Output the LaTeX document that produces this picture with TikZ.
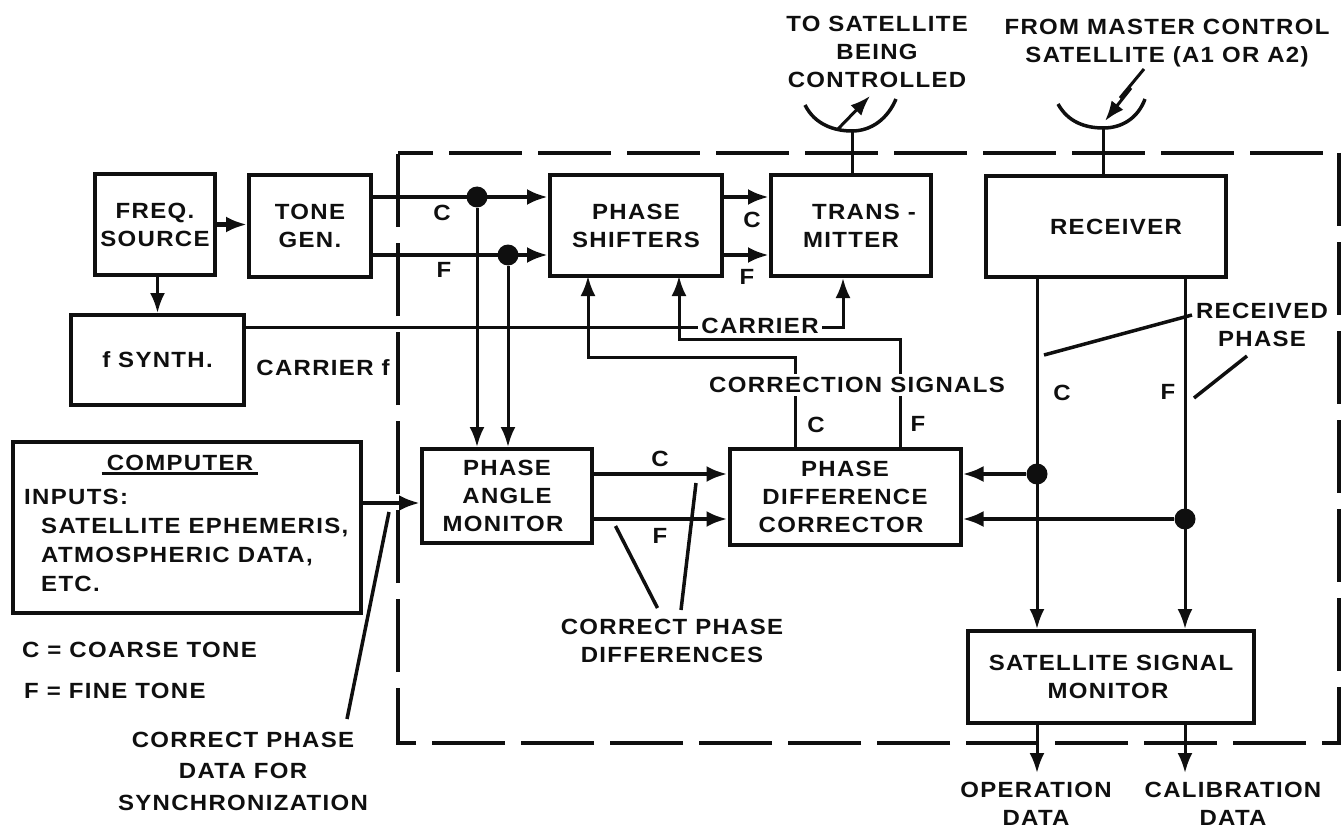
\documentclass[tikz,border=0pt]{standalone}
\usepackage{fontspec}
\usetikzlibrary{arrows.meta, calc}
\newfontfamily\labelfont{Liberation Sans}[FakeStretch=1.09, LetterSpace=6]
\definecolor{inkcol}{RGB}{15, 15, 15}
\tikzset{
  blk/.style    = {draw=inkcol, line width=4pt, align=center, text=inkcol,
                   font=\labelfont\bfseries\fontsize{22}{28}\selectfont, inner sep=0pt},
  lbl/.style    = {align=center, text=inkcol, inner sep=1pt,
                   font=\labelfont\bfseries\fontsize{22}{28}\selectfont},
  lblgap/.style = {lbl, fill=white, inner sep=3pt},
  frame/.style  = {draw=inkcol, line width=4pt, dash pattern=on 73pt off 16pt,
                   dash phase=38pt},
  flow/.style   = {-{Latex[length=21pt,width=16pt]}, draw=inkcol, line width=4.5pt},
  sig/.style    = {-{Latex[length=20pt,width=15pt]}, draw=inkcol, line width=3pt},
  wire/.style   = {draw=inkcol, line width=3pt},
  leader/.style = {draw=inkcol, line width=3.5pt},
  dish/.style   = {draw=inkcol, line width=3.5pt},
  tap/.style    = {circle, fill=inkcol, inner sep=0pt, minimum size=21pt},
}
\begin{document}
\begin{tikzpicture}[x=1pt, y=-1pt]
  \useasboundingbox (0,0) rectangle (1341,829);

  %% ---------------- the dashed boundary ----------------
  \draw[frame] (398,153) -- (1339,153) -- (1339,743) -- (398,743) -- cycle;

  %% ---------------- the boxes ----------------
  \node[blk, minimum width=120pt, minimum height=101pt] (freq) at (155,224.5) {FREQ.\\SOURCE};
  \node[blk, minimum width=122pt, minimum height=102pt] (tone) at (310,226) {TONE\\GEN.};
  \node[blk, minimum width=173pt, minimum height=90pt] (synth) at (157.5,360) {f SYNTH.};
  \node[blk, minimum width=172pt, minimum height=101pt] (shift) at (636,225.5) {PHASE\\SHIFTERS};
  \node[blk, minimum width=160pt, minimum height=101pt] (trans) at (851,225.5)
       {\hspace*{26pt}TRANS -\\MITTER};
  \node[blk, minimum width=240pt, minimum height=101pt] (recv) at (1106,226.5)
       {\hspace*{20pt}RECEIVER};
  \node[blk, minimum width=170pt, minimum height=94pt] (mon) at (507,496)
       {PHASE\\ANGLE\\MONITOR\hspace*{8pt}};
  \node[blk, minimum width=231pt, minimum height=96pt] (pdc) at (845,497)
       {PHASE\\DIFFERENCE\\CORRECTOR\hspace*{8pt}};
  \node[blk, minimum width=286pt, minimum height=92pt] (ssm) at (1111,677)
       {SATELLITE SIGNAL\\MONITOR\hspace*{6pt}};

  % The computer box holds a heading and a list, placed apart.
  \node[blk, minimum width=348pt, minimum height=171pt] (comp) at (187,527.5) {};
  \node[lbl] (comphdr) at (180,463) {COMPUTER};
  \draw[wire] ($(comphdr.south west)+(-4,2)$) -- ($(comphdr.south east)+(4,2)$);
  \node[lbl, align=left, anchor=north west, font=\labelfont\bfseries\fontsize{22}{29}\selectfont]
       (compinp) at (23,488) {INPUTS:\\
                              \hspace*{17pt}SATELLITE EPHEMERIS,\\
                              \hspace*{17pt}ATMOSPHERIC DATA,\\
                              \hspace*{17pt}ETC.};

  %% ---------------- the tone lines ----------------
  \node[tap] (tapc) at (477,197) {};
  \node[tap] (tapf) at (508,255) {};
  \draw[flow] (freq.east) -- (freq.east -| tone.west);
  \draw[sig] (freq.south -| synth.north) -- (synth.north);
  \draw[flow] (tone.east |- tapc) -- (shift.west |- tapc);
  \draw[flow] (tone.east |- tapf) -- (shift.west |- tapf);
  \draw[flow] (shift.east |- tapc) -- (trans.west |- tapc);
  \draw[flow] (shift.east |- tapf) -- (trans.west |- tapf);
  \draw[sig] (tapc) -- (tapc |- mon.north);
  \draw[sig] (tapf) -- (tapf |- mon.north);
  \draw[flow] (comp.east |- 0,503) -- (mon.west |- 0,503);
  \draw[flow] (mon.east |- 0,474) -- (pdc.west |- 0,474);
  \draw[flow] (mon.east |- 0,519) -- (pdc.west |- 0,519);

  %% ---------------- carrier and correction ----------------
  \coordinate (carrmid) at (760,327);
  \coordinate (carrtip) at ($(trans.south)+(-8,0)$);
  \coordinate (pscc) at (588,276);
  \coordinate (pscf) at (679,276);
  \coordinate (pdcc) at (795,449);
  \coordinate (pdcf) at (900,449);
  \draw[sig] (synth.east |- carrmid) -| (carrtip);
  \draw[sig] (pdcc) -- ++(0,-92) -| (pscc);
  \draw[sig] (pdcf) -- ++(0,-110) -| (pscf);
  \node[lblgap] (carr) at (760,326) {CARRIER};
  \node[lblgap] (corr) at (857,385) {CORRECTION SIGNALS};

  %% ---------------- receiver side ----------------
  \node[tap] (taprc) at (1037,474) {};
  \node[tap] (taprf) at (1185,519) {};
  \draw[sig] (recv.south -| taprc) -- (ssm.north -| taprc);
  \draw[sig] (recv.south -| taprf) -- (ssm.north -| taprf);
  \draw[flow] (taprc) -- (pdc.east |- taprc);
  \draw[flow] (taprf) -- (pdc.east |- taprf);
  \coordinate (opdata) at (1037,773);
  \coordinate (caldata) at (1185,773);
  \draw[sig] (ssm.south -| opdata) -- (opdata);
  \draw[sig] (ssm.south -| caldata) -- (caldata);

  %% ---------------- the two dishes ----------------
  \coordinate (dishtl) at (805,105);
  \coordinate (dishtr) at (896,99);
  \coordinate (dishtb) at (852,131);
  \draw[dish] (dishtl) .. controls (815,125) and (835,131) .. (dishtb)
              .. controls (872,131) and (888,118) .. (dishtr);
  \draw[wire] (dishtb) -- (dishtb |- trans.north);
  \coordinate (beamfoot) at (837,130);
  \coordinate (beamtip) at (870,96);
  \draw[sig] (beamfoot) -- (beamtip);

  \coordinate (dishrl) at (1058,104);
  \coordinate (dishrr) at (1145,99);
  \coordinate (dishrb) at (1103.5,128);
  \draw[dish] (dishrl) .. controls (1068,122) and (1085,128) .. (dishrb)
              .. controls (1122,128) and (1138,118) .. (dishrr);
  \draw[wire] (dishrb) -- (dishrb |- recv.north);
  \coordinate (boltstart) at (1144,69);
  \coordinate (bolttip) at (1105,121);
  \draw[sig] (boltstart) -- (1120,98) -- (1131,88) -- (bolttip);

  %% ---------------- labels ----------------
  \node[lbl] (sendlbl) at (877,52) {TO SATELLITE\\BEING\\CONTROLLED};
  \node[lbl] (fromlbl) at (1167,43) {FROM MASTER CONTROL\\SATELLITE (A1 OR A2)};
  \node[lbl] (cin) at (442,213) {C};
  \node[lbl] (fin) at (444,270) {F};
  \node[lbl] (cout) at (752,220) {C};
  \node[lbl] (fout) at (747,277) {F};
  \node[lbl] (carrf) at (323,368) {CARRIER f};
  \node[lbl] (ccorr) at (816,425) {C};
  \node[lbl] (fcorr) at (918,424) {F};
  \node[lbl] (cdiff) at (660,459) {C};
  \node[lbl] (fdiff) at (660,536) {F};
  \node[lbl] (crecv) at (1062,393) {C};
  \node[lbl] (frecv) at (1168,392) {F};
  \node[lbl] (rxph) at (1262,325) {RECEIVED\\PHASE};
  \node[lbl] (cpd) at (672,641) {CORRECT PHASE\\DIFFERENCES};
  \node[lbl, anchor=west] (ckey) at (21,650) {C = COARSE TONE};
  \node[lbl, anchor=west] (fkey) at (23,691) {F = FINE TONE};
  \node[lbl, font=\labelfont\bfseries\fontsize{22}{31.5}\selectfont] (cpsync) at (243,771)
       {CORRECT PHASE\\DATA FOR\\SYNCHRONIZATION};
  \node[lbl] (opl) at (1036,804) {OPERATION\\DATA};
  \node[lbl] (call) at (1233,804) {CALIBRATION\\DATA};

  %% ---------------- leader lines ----------------
  \coordinate (rxa) at (1192,315);
  \coordinate (rxb) at (1044,355);
  \coordinate (rxc) at (1247,356);
  \coordinate (rxd) at (1194,398);
  \draw[leader] (rxa) -- (rxb);
  \draw[leader] (rxc) -- (rxd);
  \coordinate (cpda) at (615.5,526);
  \coordinate (cpdb) at (657.5,608);
  \coordinate (cpdc) at (696,483);
  \coordinate (cpdd) at (681,610);
  \draw[leader] (cpda) -- (cpdb);
  \draw[leader] (cpdc) -- (cpdd);
  \coordinate (synca) at (389,512);
  \coordinate (syncb) at (347,719);
  \draw[leader] (synca) -- (syncb);

\end{tikzpicture}
\end{document}
